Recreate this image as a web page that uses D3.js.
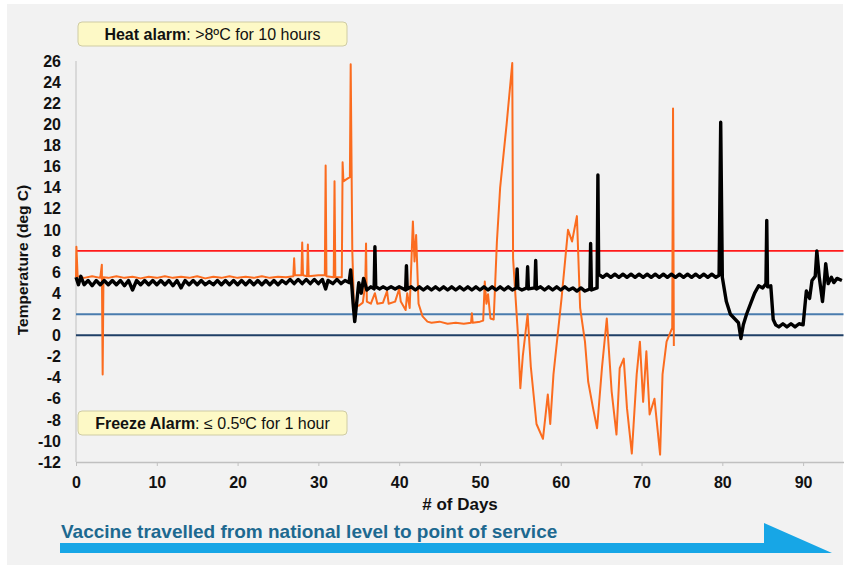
<!DOCTYPE html>
<html>
<head>
<meta charset="utf-8">
<script src="https://cdn.jsdelivr.net/npm/d3@7"></script>
<style>
  body { margin: 0; background: #fff; }
  text { font-family: "Liberation Sans", Arial, sans-serif; }
</style>
</head>
<body>
<div id="chart"></div>
<script>
// Tick values
const xTicks = [0, 10, 20, 30, 40, 50, 60, 70, 80, 90];
const yTicks = [-12, -10, -8, -6, -4, -2, 0, 2, 4, 6, 8, 10, 12, 14, 16, 18, 20, 22, 24, 26];

// Threshold lines (deg C)
const heatLimit = 8;
const coldLimits = [2, 0];

// Black logger: [day, temp]
const blackSeries = [
  [0, 5.5], [0.3, 4.8], [0.6, 5.6], [1, 4.8], [1.5, 5.2], [2, 4.7], [2.5, 5.2], [3, 4.8], [3.5, 5.2],
  [4, 4.8], [4.5, 5.2], [5, 4.8], [5.5, 5.2], [6, 4.7], [6.5, 5.2], [7, 4.3], [7.5, 5.2], [8, 4.8],
  [8.5, 5.2], [9, 4.8], [9.5, 5.2], [10, 4.8], [10.5, 5.2], [11, 4.8], [11.5, 5.2], [12, 4.7],
  [12.5, 5.2], [13, 4.5], [13.5, 5.2], [14, 4.8], [14.5, 5.2], [15, 4.8], [15.5, 5.2], [16, 4.8],
  [16.5, 5.1], [17, 4.8], [17.5, 5.2], [18, 4.8], [18.5, 5.2], [19, 4.8], [19.5, 5.2], [20, 4.8],
  [20.5, 5.2], [21, 4.8], [21.5, 5.2], [22, 4.8], [22.5, 5.2], [23, 4.8], [23.5, 5.2], [24, 4.8],
  [24.5, 5.2], [25, 4.8], [25.5, 5.2], [26, 4.9], [26.5, 5.3], [27, 4.9], [27.5, 5.3], [28, 4.9],
  [28.5, 5.3], [29, 4.9], [29.5, 5.3], [30, 4.9], [30.5, 5.3], [30.9, 4.4], [31.2, 5.2], [31.8, 4.9],
  [32.3, 5.3], [32.8, 4.9], [33.3, 5.2], [33.8, 5.0], [34, 6.2], [34.3, 3.0], [34.5, 1.3], [34.8, 3.5],
  [35, 5.0], [35.3, 4.0], [35.6, 5.4], [36, 4.3], [36.5, 4.6], [36.9, 4.4], [37, 8.4], [37.1, 4.6],
  [37.6, 4.4], [38, 4.6], [38.5, 4.4], [39, 4.6], [39.5, 4.4], [40, 4.6], [40.8, 4.3], [40.9, 6.6],
  [41, 4.4], [41.5, 4.6], [42, 4.3], [42.5, 4.6], [43, 4.3], [43.5, 4.6], [44, 4.3], [44.5, 4.6],
  [45, 4.3], [45.5, 4.6], [46, 4.3], [46.5, 4.6], [47, 4.3], [47.5, 4.6], [48, 4.3], [48.5, 4.6],
  [49, 4.3], [49.5, 4.6], [50, 4.3], [50.5, 4.6], [51, 4.3], [51.5, 4.6], [52, 4.3], [52.5, 4.6],
  [53, 4.3], [53.5, 4.6], [54, 4.3], [54.5, 4.5], [54.6, 6.3], [54.7, 4.5], [55.2, 4.3], [55.8, 4.5],
  [55.9, 6.5], [56, 4.4], [56.8, 4.5], [56.9, 7.1], [57, 4.4], [57.5, 4.6], [58, 4.3], [58.5, 4.6],
  [59, 4.3], [59.5, 4.6], [60, 4.3], [60.5, 4.6], [61, 4.3], [61.5, 4.5], [62, 4.2], [62.5, 4.5],
  [63, 4.2], [63.6, 4.4], [63.7, 8.7], [63.8, 4.3], [64.5, 4.5], [64.6, 15.2], [64.7, 5.8], [65.2, 5.5],
  [65.7, 5.8], [66.2, 5.5], [66.7, 5.8], [67.2, 5.5], [67.7, 5.8], [68.2, 5.5], [68.7, 5.8], [69.2, 5.5],
  [69.7, 5.8], [70.2, 5.5], [70.7, 5.8], [71.2, 5.5], [71.7, 5.8], [72.2, 5.5], [72.7, 5.8], [73.2, 5.5],
  [73.7, 5.8], [74.2, 5.5], [74.7, 5.8], [75.2, 5.5], [75.7, 5.8], [76.2, 5.5], [76.7, 5.8], [77.2, 5.5],
  [77.7, 5.8], [78.2, 5.5], [78.7, 5.8], [79.2, 5.5], [79.6, 5.7], [79.8, 20.2], [80, 5.5], [80.5, 3.2],
  [81, 2.0], [81.5, 1.6], [82, 1.2], [82.3, -0.3], [82.6, 1.0], [83, 2.0], [83.5, 3.0], [84, 4.0],
  [84.5, 4.7], [85, 4.5], [85.4, 4.9], [85.5, 10.9], [85.6, 4.6], [86, 4.7], [86.3, 1.5], [86.6, 1.0],
  [87, 0.8], [87.5, 1.1], [88, 0.8], [88.5, 1.1], [89, 0.8], [89.5, 1.1], [90, 1.0], [90.4, 4.2],
  [90.8, 3.5], [91.1, 5.2], [91.5, 5.6], [91.7, 8.0], [92, 5.5], [92.4, 3.2], [92.6, 4.8], [92.8, 6.8],
  [93.1, 4.9], [93.5, 5.5], [93.8, 5.0], [94.2, 5.4], [94.8, 5.2]
];

// Orange logger: [day, temp]
const orangeSeries = [
  [0, 5.5], [0.05, 8.4], [0.2, 5.6], [1, 5.45], [2, 5.6], [3, 5.45], [3.2, 6.7], [3.3, -3.7], [3.4, 5.5],
  [4, 5.45], [5, 5.6], [6, 5.45], [7, 5.55], [8, 5.4], [9, 5.55], [10, 5.45], [11, 5.6], [12, 5.45], [13, 5.55],
  [14, 5.45], [15, 5.6], [16, 5.4], [17, 5.55], [18, 5.45], [19, 5.6], [20, 5.45], [21, 5.55], [22, 5.45],
  [23, 5.6], [24, 5.45], [25, 5.55], [26, 5.5], [26.9, 5.6], [27, 7.3], [27.1, 5.7], [27.9, 5.7], [28, 8.8],
  [28.1, 5.7], [28.6, 5.6], [28.7, 8.6], [28.8, 5.6], [30, 5.7], [30.8, 5.7], [30.9, 16.1], [31, 5.6],
  [31.9, 5.5], [32, 14.6], [32.1, 5.5], [32.9, 5.5], [33, 16.4], [33.1, 14.6], [33.5, 14.8], [33.9, 15.0],
  [34, 25.7], [34.2, 8.0], [34.4, 3.0], [35, 2.8], [35.5, 3.1], [35.8, 4.8], [35.9, 8.7], [36.0, 3.2],
  [36.5, 3.0], [37, 4.0], [37.3, 3.0], [38, 3.1], [38.5, 4.2], [38.7, 3.0], [39.5, 3.2], [40, 4.4],
  [40.2, 3.2], [40.8, 2.4], [41, 4.0], [41.3, 2.6], [41.7, 10.8], [41.9, 7.0], [42.1, 9.5], [42.4, 3.0],
  [42.9, 1.8], [43.5, 1.3], [44, 1.2], [45, 1.3], [46, 1.1], [47, 1.2], [48, 1.1], [48.9, 1.2], [49, 2.1],
  [49.1, 1.2], [50, 1.3], [50.4, 1.4], [50.6, 5.1], [50.8, 3.0], [51, 3.9], [51.3, 1.6], [51.7, 1.5],
  [52.1, 8.9], [52.5, 14.0], [53.3, 20.0], [54, 25.8], [54.1, 7.3], [54.7, 0.1], [55, -5.0], [55.3, -2.0],
  [55.9, 2.0], [56.3, -3.0], [57, -8.4], [57.8, -9.8], [58.4, -5.6], [58.7, -8.4], [59.1, -3.7],
  [60.1, 3.5], [60.9, 10.0], [61.4, 8.9], [62, 11.3], [62.4, 2.6], [63, -0.6], [63.4, -4.4], [64, -6.9],
  [64.5, -8.8], [65.1, -3.1], [65.7, 1.6], [66.3, -5.3], [66.9, -9.4], [67.3, -3.1], [67.8, -2.2],
  [68.2, -6.9], [68.8, -11.2], [69.4, -3.7], [69.8, -0.6], [70.2, -6.3], [70.6, -1.5], [71, -7.5],
  [71.6, -6.0], [72.3, -11.3], [72.6, -3.7], [73.1, -0.6], [73.8, 0.7], [73.9, 21.5], [74, -1.0]
];

const W = 846, H = 567;

const svg = d3.select("#chart")
  .append("svg")
  .attr("width", W)
  .attr("height", H);

// Panel background
svg.append("rect")
  .attr("x", 7).attr("y", 4)
  .attr("width", 836).attr("height", 561)
  .attr("fill", "#f2f2f2");

// Scales
const x = d3.scaleLinear().domain([0, 95]).range([76, 843.5]);
const y = d3.scaleLinear().domain([-12, 26]).range([462, 61]);

// Left axis line (light)
svg.append("line")
  .attr("x1", x(0)).attr("x2", x(0))
  .attr("y1", y(26)).attr("y2", y(-12))
  .attr("stroke", "#d0d0d0")
  .attr("stroke-width", 1.5);

// Y tick labels
svg.append("g")
  .selectAll("text")
  .data(yTicks)
  .enter()
  .append("text")
  .attr("x", 61)
  .attr("y", d => y(d))
  .attr("dy", "0.36em")
  .attr("text-anchor", "end")
  .attr("font-size", 16)
  .attr("font-weight", "bold")
  .attr("fill", "#111")
  .text(d => d);

// X axis
const xAxis = svg.append("g")
  .attr("transform", "translate(0," + y(-12) + ")")
  .call(d3.axisBottom(x).tickValues(xTicks).tickSize(4).tickSizeOuter(0));
xAxis.select(".domain").attr("stroke", "#c0c0c0").attr("stroke-width", 1.5);
xAxis.selectAll(".tick line").attr("stroke", "#c0c0c0");
xAxis.selectAll(".tick text")
  .attr("y", 26)
  .attr("dy", null)
  .attr("font-size", 16)
  .attr("font-weight", "bold")
  .attr("fill", "#111")
  .attr("font-family", "Liberation Sans, Arial, sans-serif");

// Threshold lines
svg.append("line")
  .attr("x1", x(0)).attr("x2", x(95))
  .attr("y1", y(heatLimit)).attr("y2", y(heatLimit))
  .attr("stroke", "#ff1a1a")
  .attr("stroke-width", 1.8);

svg.selectAll("line.cold")
  .data(coldLimits)
  .enter()
  .append("line")
  .attr("class", "cold")
  .attr("x1", x(0)).attr("x2", x(95))
  .attr("y1", d => y(d)).attr("y2", d => y(d))
  .attr("stroke", (d, i) => i === 0 ? "#4a7cae" : "#1f3f66")
  .attr("stroke-width", 2);

// Series
const line = d3.line()
  .x(d => x(d[0]))
  .y(d => y(d[1]));

svg.append("path")
  .datum(orangeSeries)
  .attr("fill", "none")
  .attr("stroke", "#fb6c1f")
  .attr("stroke-width", 2)
  .attr("stroke-linejoin", "round")
  .attr("d", line);

svg.append("path")
  .datum(blackSeries)
  .attr("fill", "none")
  .attr("stroke", "#000")
  .attr("stroke-width", 3.4)
  .attr("stroke-linejoin", "round")
  .attr("d", line);

// Alarm boxes
function alarmBox(yTop, bold, rest) {
  svg.append("rect")
    .attr("x", 78).attr("y", yTop)
    .attr("width", 269).attr("height", 24)
    .attr("rx", 4)
    .attr("fill", "#fdf9c6")
    .attr("stroke", "#cfcca4");
  const t = svg.append("text")
    .attr("x", 212.5)
    .attr("y", yTop + 18)
    .attr("text-anchor", "middle")
    .attr("font-size", 16)
    .attr("fill", "#111");
  t.append("tspan").attr("font-weight", "bold").text(bold);
  t.append("tspan").text(rest);
}
alarmBox(22, "Heat alarm", ": >8ºC for 10 hours");
alarmBox(411, "Freeze Alarm", ": ≤ 0.5ºC for 1 hour");

// Axis titles
svg.append("text")
  .attr("transform", "translate(28,260) rotate(-90)")
  .attr("text-anchor", "middle")
  .attr("font-size", 15.5)
  .attr("font-weight", "bold")
  .attr("fill", "#111")
  .text("Temperature (deg C)");

svg.append("text")
  .attr("x", 460)
  .attr("y", 510)
  .attr("text-anchor", "middle")
  .attr("font-size", 17)
  .attr("font-weight", "bold")
  .attr("fill", "#111")
  .text("# of Days");

// Bottom arrow
svg.append("text")
  .attr("x", 61)
  .attr("y", 538)
  .attr("font-size", 19)
  .attr("font-weight", "bold")
  .attr("fill", "#1d6990")
  .text("Vaccine travelled from national level to point of service");

svg.append("path")
  .attr("d", "M60,543 L764,543 L764,523 L832,553 L60,553 Z")
  .attr("fill", "#17a6e6");
</script>
</body>
</html>
